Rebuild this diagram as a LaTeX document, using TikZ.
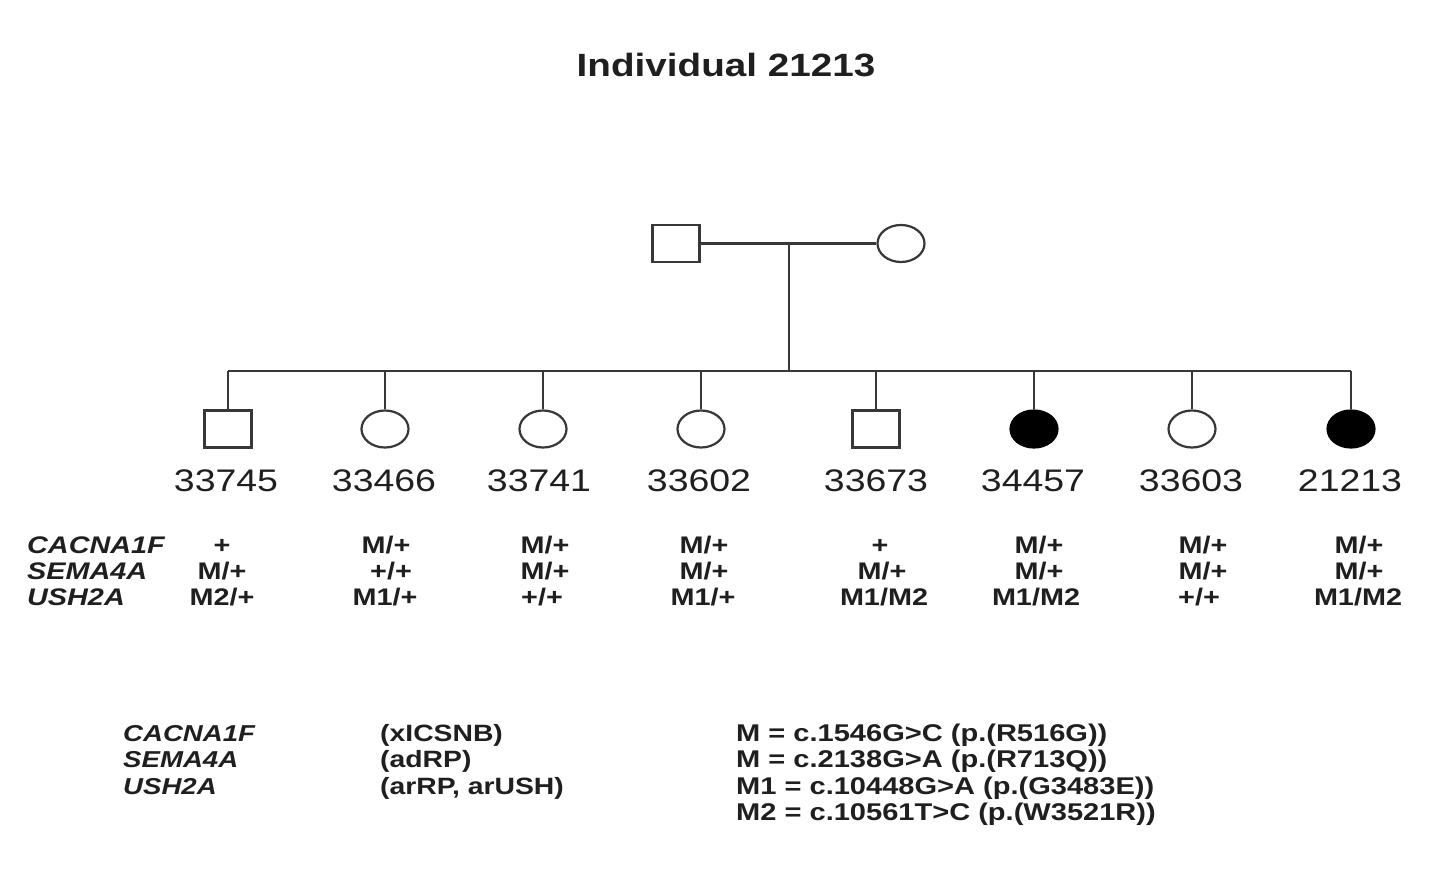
\documentclass[tikz,border=0pt]{standalone}
\usepackage{fontspec}
\setmainfont[FakeStretch=1.2]{Liberation Sans}
\usetikzlibrary{shapes.geometric}
\definecolor{lc}{rgb}{0.22,0.22,0.22}
\definecolor{tc}{rgb}{0.12,0.12,0.12}
\begin{document}
\begin{tikzpicture}[x=1pt,y=-1pt,
  pline/.style={draw=lc,line width=2.2pt},
  male/.style={rectangle,draw=lc,line width=2.2pt,fill=white,minimum width=47pt,minimum height=37pt,inner sep=0pt},
  female/.style={ellipse,draw=lc,line width=2.2pt,fill=white,minimum width=47pt,minimum height=37pt,inner sep=0pt},
  affected/.style={female,fill=black,draw=black},
  title/.style={font=\bfseries\fontsize{32.2}{32}\selectfont,text=tc,anchor=base,inner sep=0pt},
  idlab/.style={font=\fontsize{31.2}{31}\selectfont,text=tc,anchor=base,inner sep=0pt},
  geno/.style={font=\bfseries\fontsize{24}{24}\selectfont,text=tc,anchor=base,inner sep=0pt},
  gene/.style={font=\bfseries\itshape\fontsize{24}{24}\selectfont,text=tc,anchor=base west,inner sep=0pt},
  lgene/.style={font=\bfseries\itshape\fontsize{23}{23}\selectfont,text=tc,anchor=base west,inner sep=0pt},
  ltext/.style={font=\bfseries\fontsize{23.6}{23}\selectfont,text=tc,anchor=base west,inner sep=0pt},
  mtext/.style={font=\bfseries\fontsize{24.2}{24}\selectfont,text=tc,anchor=base west,inner sep=0pt}
]
\useasboundingbox[fill=white] (0,0) rectangle (1456,883);

\node[title] (ttl) at (726,77) {Individual 21213};

% parents
\node[male] (fa) at (676,243.5) {};
\node[female] (mo) at (901,243.5) {};
\draw[pline] (fa.east) -- (mo.west);
\coordinate (mid) at (789,243.5);
\coordinate (sib) at (789,371);
\draw[pline] (mid) -- (sib);

% children
\node[male]     (c1) at (228,429) {};
\node[female]   (c2) at (385,429) {};
\node[female]   (c3) at (543,429) {};
\node[female]   (c4) at (701,429) {};
\node[male]     (c5) at (876,429) {};
\node[affected] (c6) at (1034,429) {};
\node[female]   (c7) at (1192,429) {};
\node[affected] (c8) at (1351,429) {};

\draw[pline] (c1.north |- sib) -- (c8.north |- sib);
\foreach \c in {c1,c2,c3,c4,c5,c6,c7,c8}{
  \draw[pline] (\c.north) -- (\c.north |- sib);
}

% ID labels
\node[idlab] (l1) at (226,491) {33745};
\node[idlab] (l2) at (384,491) {33466};
\node[idlab] (l3) at (539,491) {33741};
\node[idlab] (l4) at (699,491) {33602};
\node[idlab] (l5) at (876,491) {33673};
\node[idlab] (l6) at (1033,491) {34457};
\node[idlab] (l7) at (1191,491) {33603};
\node[idlab] (l8) at (1350,491) {21213};

% genotype table
\node[gene] (g1) at (27,553) {CACNA1F};
\node[gene] (g2) at (27,579) {SEMA4A};
\node[gene] (g3) at (27,605) {USH2A};

\node[geno] at (222,553) {+};
\node[geno] at (222,579) {M/+};
\node[geno] at (222,605) {M2/+};

\node[geno] at (386,553) {M/+};
\node[geno] at (391,579) {+/+};
\node[geno] at (385,605) {M1/+};

\node[geno] at (545,553) {M/+};
\node[geno] at (545,579) {M/+};
\node[geno] at (542,605) {+/+};

\node[geno] at (704,553) {M/+};
\node[geno] at (704,579) {M/+};
\node[geno] at (703,605) {M1/+};

\node[geno] at (880,553) {+};
\node[geno] at (882,579) {M/+};
\node[geno] at (884,605) {M1/M2};

\node[geno] at (1039,553) {M/+};
\node[geno] at (1039,579) {M/+};
\node[geno] at (1036,605) {M1/M2};

\node[geno] at (1203,553) {M/+};
\node[geno] at (1203,579) {M/+};
\node[geno] at (1199,605) {+/+};

\node[geno] at (1359,553) {M/+};
\node[geno] at (1359,579) {M/+};
\node[geno] at (1358,605) {M1/M2};

% legend
\node[lgene] (k1) at (123,741) {CACNA1F};
\node[lgene] (k2) at (123,767) {SEMA4A};
\node[lgene] (k3) at (123,794) {USH2A};
\node[ltext] (d1) at (380,741) {(xICSNB)};
\node[ltext] (d2) at (380,767) {(adRP)};
\node[ltext] (d3) at (380,794) {(arRP, arUSH)};

\node[mtext] (m1) at (736,741) {M = c.1546G>C (p.(R516G))};
\node[mtext] (m2) at (736,767) {M = c.2138G>A (p.(R713Q))};
\node[mtext] (m3) at (736,794) {M1 = c.10448G>A (p.(G3483E))};
\node[mtext] (m4) at (736,820) {M2 = c.10561T>C (p.(W3521R))};
\end{tikzpicture}
\end{document}
